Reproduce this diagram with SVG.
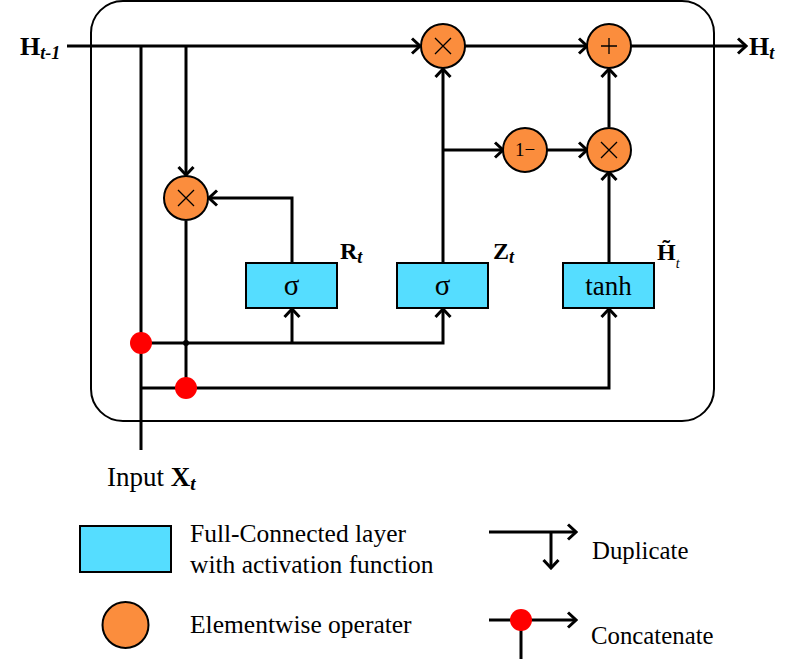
<svg xmlns="http://www.w3.org/2000/svg" width="785" height="659" viewBox="0 0 785 659">
<style>
.ln{fill:none;stroke:#000;stroke-width:3}
.op{fill:#FB8D3D;stroke:#000;stroke-width:2}
.fc{fill:#55DDFF;stroke:#000;stroke-width:2}
.sym{stroke:#000;stroke-width:1.3;fill:none}
.dot{fill:#FF0000}
.t{font-family:"Liberation Serif","Times New Roman",serif;fill:#000}
.b{font-weight:bold}
.i{font-style:italic}
</style>
<defs>
<marker id="ah" markerUnits="userSpaceOnUse" markerWidth="12" markerHeight="18" viewBox="0 0 12 18" refX="10" refY="9" orient="auto">
<path d="M2,1.5 L10,9 L2,16.5" fill="none" stroke="#000" stroke-width="3"/>
</marker>
</defs>
<rect id="frame" x="91" y="1" width="623" height="420" rx="32" fill="none" stroke="#000" stroke-width="2"/>
<g id="connectors">
<path class="ln" d="M67,46 H420" marker-end="url(#ah)"/>
<path class="ln" d="M465,46 H587" marker-end="url(#ah)"/>
<path class="ln" d="M631,46 H746" marker-end="url(#ah)"/>
<path class="ln" d="M141,46 V450"/>
<path class="ln" d="M186,46 V175" marker-end="url(#ah)"/>
<path class="ln" d="M186,221 V388"/>
<path class="ln" d="M292,263 V198 H209" marker-end="url(#ah)"/>
<path class="ln" d="M443,263 V69" marker-end="url(#ah)"/>
<path class="ln" d="M443,150 H503" marker-end="url(#ah)"/>
<path class="ln" d="M547,150 H587" marker-end="url(#ah)"/>
<path class="ln" d="M609,127 V69" marker-end="url(#ah)"/>
<path class="ln" d="M609,263 V172" marker-end="url(#ah)"/>
<path class="ln" d="M141,343 H443 V309" marker-end="url(#ah)"/>
<path class="ln" d="M292,343 V309" marker-end="url(#ah)"/>
<path class="ln" d="M141,388 H609 V309" marker-end="url(#ah)"/>
<circle cx="186" cy="343" r="3" fill="#000"/>
<circle class="dot" cx="141" cy="343" r="11"/>
<circle class="dot" cx="186" cy="388" r="11"/>
</g>
<g id="mul_reset">
<circle class="op" cx="186" cy="198" r="22"/>
<path class="sym" d="M178,190 L194,206 M194,190 L178,206"/>
</g>
<g id="mul_top">
<circle class="op" cx="443" cy="46" r="22"/>
<path class="sym" d="M435,38 L451,54 M451,38 L435,54"/>
</g>
<g id="add">
<circle class="op" cx="609" cy="46" r="22"/>
<path class="sym" d="M601,46 H617 M609,38 V54"/>
</g>
<g id="one_minus">
<circle class="op" cx="525" cy="150" r="22"/>
<text class="t" x="525" y="156" font-size="19" text-anchor="middle">1−</text>
</g>
<g id="mul_bottom">
<circle class="op" cx="609" cy="150" r="22"/>
<path class="sym" d="M601,142 L617,158 M617,142 L601,158"/>
</g>
<g id="sigma_r">
<rect class="fc" x="246" y="263" width="91" height="45"/>
<text class="t" x="291.5" y="295" font-size="29" text-anchor="middle">σ</text>
</g>
<g id="sigma_z">
<rect class="fc" x="397" y="263" width="91" height="45"/>
<text class="t" x="442.5" y="295" font-size="29" text-anchor="middle">σ</text>
</g>
<g id="tanh">
<rect class="fc" x="563" y="263" width="91" height="45"/>
<text class="t" x="608.5" y="295" font-size="27" text-anchor="middle">tanh</text>
</g>
<g id="labels">
<text class="t b" x="20" y="55" font-size="26">H<tspan class="i" font-size="18" dy="4">t-1</tspan></text>
<text class="t b" x="749" y="55" font-size="26">H<tspan class="i" font-size="18" dy="4">t</tspan></text>
<text class="t b" x="340" y="259" font-size="24">R<tspan class="i" font-size="18" dy="4">t</tspan></text>
<text class="t b" x="493" y="259" font-size="24">Z<tspan class="i" font-size="18" dy="4">t</tspan></text>
<text class="t b" x="657" y="260" font-size="24">H̃<tspan font-weight="normal" class="i" font-size="14" dy="8">t</tspan></text>
<text class="t" x="107" y="486" font-size="27">Input <tspan class="b">X</tspan><tspan class="b i" font-size="19" dy="4">t</tspan></text>
</g>
<g id="legend">
<rect class="fc" x="80" y="526" width="91" height="46"/>
<circle class="op" cx="125.5" cy="625" r="23"/>
<text class="t" x="190" y="542" font-size="25.5">Full-Connected layer</text>
<text class="t" x="190" y="573" font-size="25.5">with activation function</text>
<text class="t" x="190" y="633" font-size="25.5">Elementwise operater</text>
<path class="ln" d="M489,532 H576" marker-end="url(#ah)"/>
<path class="ln" d="M551,532 V568" marker-end="url(#ah)"/>
<text class="t" x="592" y="559" font-size="24.8">Duplicate</text>
<path class="ln" d="M489,620 H576" marker-end="url(#ah)"/>
<path class="ln" d="M521,620 V659"/>
<circle class="dot" cx="521" cy="620" r="11"/>
<text class="t" x="591" y="644" font-size="24.8">Concatenate</text>
</g>
</svg>
